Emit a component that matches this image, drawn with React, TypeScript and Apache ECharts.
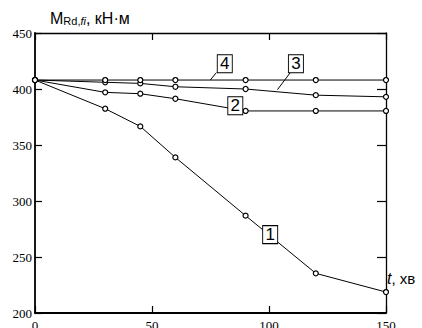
import React, { useEffect, useRef } from "react";
import * as echarts from "echarts";

const times = [0, 30, 45, 60, 90, 120, 150];
const series1 = [408, 382.4, 366.6, 338.9, 286.9, 235.4, 218.7];
const series2 = [408, 397, 395.8, 391.3, 380.4, 380.4, 380.4];
const series3 = [408, 406, 405, 402, 400, 394.5, 393];
const series4 = [408, 408, 408, 408, 408, 408, 408];
const seriesNames = ["1", "2", "3", "4"];
// label box anchor positions (data coords)
const boxPositions: [number, number][] = [
  [100.5, 270],
  [85.6, 385],
  [111.5, 422.6],
  [81.1, 422.6],
];
// leader lines (data coords) for labels; null = none
const leaders: ([number, number][] | null)[] = [
  null,
  null,
  [
    [103.6, 399.4],
    [109.1, 414.6],
  ],
  [
    [74.9, 408],
    [77.5, 414.6],
  ],
];
const xTicks = { min: 0, max: 150, interval: 50 };
const yTicks = { min: 200, max: 450, interval: 50 };

export default function App() {
  const ref = useRef<HTMLDivElement>(null);
  useEffect(() => {
    if (!ref.current) return;
    const chart = echarts.init(ref.current, null, { renderer: "svg" });
    const allSeries = [series1, series2, series3, series4];
    const serif = "'Liberation Serif', 'Times New Roman', serif";
    const sans = "'Liberation Sans', Arial, sans-serif";
    chart.setOption({
      animation: false,
      backgroundColor: "#fff",
      title: [
        {
          left: 50,
          top: 8,
          padding: 0,
          text: "{m|M}{s|Rd,}{si|fi}{m|, кН·м}",
          textStyle: {
            fontWeight: "normal",
            rich: {
              m: { fontSize: 16, fontFamily: sans, color: "#000", fontWeight: "normal", verticalAlign: "bottom", lineHeight: 18 },
              s: { fontSize: 11, fontFamily: sans, color: "#000", fontWeight: "normal", verticalAlign: "bottom", lineHeight: 12 },
              si: { fontSize: 11, fontFamily: sans, color: "#000", fontStyle: "italic", fontWeight: "normal", verticalAlign: "bottom", lineHeight: 12 },
            },
          },
        },
        {
          left: 387,
          top: 270,
          padding: 0,
          text: "{i|t}{n|, хв}",
          textStyle: {
            fontWeight: "normal",
            rich: {
              i: { fontSize: 16, fontFamily: sans, color: "#000", fontStyle: "italic", fontWeight: "normal" },
              n: { fontSize: 15, fontFamily: sans, color: "#000", fontWeight: "normal" },
            },
          },
        },
      ],
      grid: {
        left: 35,
        right: 36,
        top: 33,
        bottom: 15,
        containLabel: false,
        outerBoundsMode: "none",
      },
      xAxis: [
        {
          type: "value",
          position: "bottom",
          ...xTicks,
          splitLine: { show: false },
          axisLine: { onZero: false, lineStyle: { color: "#000", width: 1.8 } },
          axisTick: { inside: true, length: 7, lineStyle: { color: "#000", width: 1.2 } },
          axisLabel: { margin: 6, color: "#000", fontSize: 13, fontFamily: serif },
        },
        {
          type: "value",
          position: "top",
          ...xTicks,
          splitLine: { show: false },
          axisLine: { onZero: false, lineStyle: { color: "#000", width: 1.3 } },
          axisTick: { inside: true, length: 7, lineStyle: { color: "#000", width: 1.2 } },
          axisLabel: { show: false },
        },
      ],
      yAxis: [
        {
          type: "value",
          position: "left",
          ...yTicks,
          splitLine: { show: false },
          axisLine: { show: true, onZero: false, lineStyle: { color: "#000", width: 1.8 } },
          axisTick: { show: true, inside: true, length: 7, lineStyle: { color: "#000", width: 1.2 } },
          axisLabel: { margin: 3, color: "#000", fontSize: 13, fontFamily: serif },
        },
        {
          type: "value",
          position: "right",
          ...yTicks,
          splitLine: { show: false },
          axisLine: { show: true, onZero: false, lineStyle: { color: "#000", width: 1.3 } },
          axisTick: { show: true, inside: true, length: 9, lineStyle: { color: "#000", width: 1.2 } },
          axisLabel: { show: false },
        },
      ],
      series: allSeries.map((vals, i) => ({
        type: "line",
        name: seriesNames[i],
        xAxisIndex: 0,
        yAxisIndex: 0,
        data: times.map((t, j) => [t, vals[j]]),
        symbol: "circle",
        symbolSize: 5,
        showAllSymbol: true,
        lineStyle: { color: "#000", width: 1 },
        itemStyle: { color: "#fff", borderColor: "#000", borderWidth: 1.2 },
        markPoint: {
          silent: true,
          symbol: "rect",
          symbolSize: [15, 18],
          itemStyle: { color: "#fff", borderColor: "#000", borderWidth: 1 },
          label: {
            show: true,
            position: "inside",
            color: "#000",
            fontSize: 17,
            fontFamily: sans,
            formatter: seriesNames[i],
          },
          data: [{ coord: boxPositions[i] }],
        },
        markLine: leaders[i]
          ? {
              silent: true,
              symbol: "none",
              lineStyle: { color: "#000", width: 1, type: "solid" },
              label: { show: false },
              data: [[{ coord: leaders[i]![0] }, { coord: leaders[i]![1] }]],
            }
          : undefined,
      })),
    });
    return () => chart.dispose();
  }, []);
  return (
    <div
      ref={ref}
      style={{ position: "fixed", left: 0, top: 0, width: 422, height: 328 }}
    />
  );
}
